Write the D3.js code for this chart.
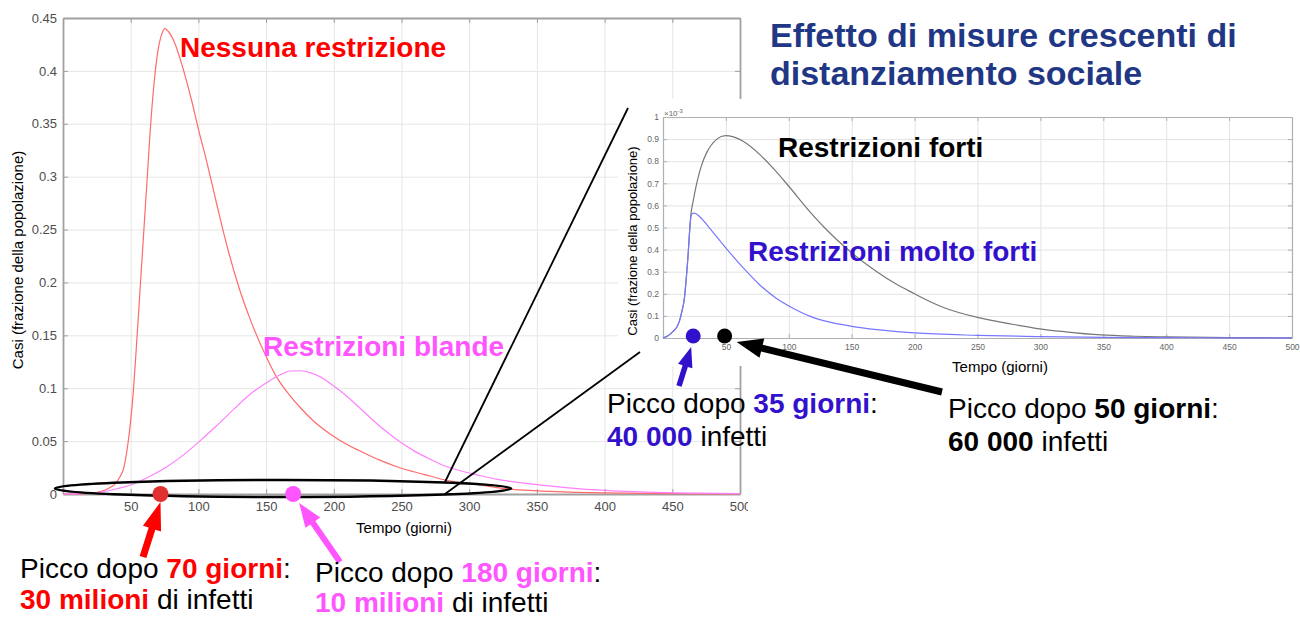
<!DOCTYPE html>
<html>
<head>
<meta charset="utf-8">
<script src="https://cdn.jsdelivr.net/npm/d3@7"></script>
<style>
  body { margin: 0; background: #fff; }
  svg { display: block; font-family: "Liberation Sans", Arial, sans-serif; }
</style>
</head>
<body>
<svg id="chart" width="1300" height="619"></svg>
<script>
// ---- data ----
const mainTicksX = [50, 100, 150, 200, 250, 300, 350, 400, 450, 500];
const mainTicksY = [0, 0.05, 0.1, 0.15, 0.2, 0.25, 0.3, 0.35, 0.4, 0.45];
const mainLabelsY = ["0", "0.05", "0.1", "0.15", "0.2", "0.25", "0.3", "0.35", "0.4", "0.45"];

// Nessuna restrizione (fraction of population)
const daysNessuna = [0, 10, 20, 27, 33, 38, 42, 44.5, 48, 52, 54.5, 57, 59.5, 62, 64.5, 67, 70, 73, 75.3, 78, 82, 88, 95, 100, 106, 113, 121, 130, 138, 150, 158, 167, 175, 185, 197, 209.5, 222, 234, 246, 259, 271, 283, 295, 308, 320, 332, 360, 400, 450, 500];
const casiNessuna = [0, 0, 0.0005, 0.002, 0.005, 0.009, 0.016, 0.023, 0.048, 0.098, 0.145, 0.195, 0.245, 0.295, 0.345, 0.385, 0.418, 0.435, 0.44, 0.437, 0.428, 0.405, 0.372, 0.345, 0.315, 0.277, 0.235, 0.195, 0.166, 0.13, 0.11, 0.094, 0.082, 0.069, 0.057, 0.047, 0.039, 0.032, 0.026, 0.021, 0.017, 0.013, 0.0105, 0.0085, 0.006, 0.0044, 0.0025, 0.001, 0.0004, 0.0001];

// Restrizioni blande
const daysBlande = [0, 15, 27, 40, 52, 64, 77, 89, 101, 113, 126, 138, 150, 160, 168, 175, 183, 191, 200, 210, 222, 234, 246, 259, 271, 283, 295, 308, 320, 333, 357, 382, 406, 431, 470, 500];
const casiBlande = [0, 0.0003, 0.0015, 0.005, 0.0095, 0.0165, 0.026, 0.037, 0.05, 0.064, 0.08, 0.094, 0.105, 0.1125, 0.1163, 0.1165, 0.1145, 0.11, 0.102, 0.092, 0.078, 0.064, 0.052, 0.041, 0.033, 0.026, 0.0215, 0.0175, 0.014, 0.0115, 0.008, 0.0048, 0.003, 0.0017, 0.0008, 0.0004];

const insetTicksX = [50, 100, 150, 200, 250, 300, 350, 400, 450, 500];
const insetTicksY = [0, 0.1, 0.2, 0.3, 0.4, 0.5, 0.6, 0.7, 0.8, 0.9, 1];
const insetLabelsY = ["0", "0.1", "0.2", "0.3", "0.4", "0.5", "0.6", "0.7", "0.8", "0.9", "1"];

// Restrizioni forti (x 1e-3)
const daysForti = [0, 4, 8, 11, 13, 15, 17, 18.5, 20, 21, 22, 24, 26.8, 30, 34.8, 38, 42.8, 49.6, 56, 64, 77, 90, 99.5, 117, 130, 149, 170, 185, 200, 212, 223, 250, 275, 295, 320, 348, 375, 401, 450, 500];
const casiForti = [0, 0.01, 0.03, 0.05, 0.075, 0.12, 0.18, 0.27, 0.38, 0.47, 0.55, 0.62, 0.70, 0.77, 0.84, 0.87, 0.90, 0.916, 0.91, 0.889, 0.83, 0.753, 0.69, 0.57, 0.49, 0.39, 0.30, 0.245, 0.2, 0.165, 0.138, 0.093, 0.065, 0.045, 0.028, 0.014, 0.008, 0.005, 0.002, 0.001];

// Restrizioni molto forti (x 1e-3)
const daysMoltoForti = [0, 4, 8, 11, 13, 15, 17, 18.5, 20, 21, 22, 23, 25, 29, 37, 50, 64, 77, 90, 103, 117, 130, 150, 170, 200, 250, 300, 350, 400, 450, 500];
const casiMoltoForti = [0, 0.01, 0.03, 0.05, 0.075, 0.12, 0.18, 0.27, 0.38, 0.47, 0.54, 0.562, 0.565, 0.55, 0.497, 0.407, 0.316, 0.24, 0.18, 0.136, 0.098, 0.075, 0.053, 0.038, 0.023, 0.012, 0.006, 0.003, 0.0015, 0.0008, 0.0004];

// peak markers on the time axis (days)
const peakDaysMain = [72, 170];
const peakDaysInset = [24, 49];
// ellipse around the bottom of the main chart (days)
const ellipseDays = [-6, 331];

// ---- layout ----
const svg = d3.select("#chart");
const xMain = d3.scaleLinear().domain([0, 500]).range([63, 740]);
const yMain = d3.scaleLinear().domain([0, 0.45]).range([494, 18]);
const xInset = d3.scaleLinear().domain([0, 500]).range([663, 1292]);
const yInset = d3.scaleLinear().domain([0, 1]).range([338, 117]);

const RED = "#ff0000", PINK = "#ff55ff", BLUE = "#3311cc";

function drawBox(g, x, y, xTicks, yTicks, yLabels, o) {
  const [x0, x1] = x.range(), [y0, y1] = y.range();
  // grid
  g.append("g").attr("transform", `translate(0,${y0})`)
    .call(d3.axisBottom(x).tickValues(xTicks).tickSize(-(y0 - y1)).tickFormat(""))
    .call(a => a.select(".domain").remove())
    .selectAll("line").attr("stroke", o.grid);
  g.append("g").attr("transform", `translate(${x0},0)`)
    .call(d3.axisLeft(y).tickValues(yTicks).tickSize(-(x1 - x0)).tickFormat(""))
    .call(a => a.select(".domain").remove())
    .selectAll("line").attr("stroke", o.grid);

  const style = a => {
    a.select(".domain").attr("stroke", o.axis).attr("stroke-width", o.axisW);
    a.selectAll(".tick line").attr("stroke", o.axis);
    a.selectAll("text").attr("fill", o.text).style("font-size", o.font + "px")
      .style("font-family", '"Liberation Sans", Arial, sans-serif');
  };
  g.append("g").attr("transform", `translate(0,${y0})`)
    .call(d3.axisBottom(x).tickValues(xTicks).tickSizeInner(-o.tick).tickSizeOuter(0).tickPadding(o.padX))
    .call(style);
  g.append("g").attr("transform", `translate(${x0},0)`)
    .call(d3.axisLeft(y).tickValues(yTicks).tickFormat((d, i) => yLabels[i]).tickSizeInner(-o.tick).tickSizeOuter(0).tickPadding(o.padY))
    .call(style);
  g.append("g").attr("transform", `translate(0,${y1})`)
    .call(d3.axisTop(x).tickValues(xTicks).tickSizeInner(-o.tick).tickSizeOuter(0).tickFormat(""))
    .call(style);
  g.append("g").attr("transform", `translate(${x1},0)`)
    .call(d3.axisRight(y).tickValues(yTicks).tickSizeInner(-o.tick).tickSizeOuter(0).tickFormat(""))
    .call(style);
}

function drawCurve(g, x, y, days, vals, color) {
  const line = d3.line().x(d => x(d[0])).y(d => y(d[1])).curve(d3.curveMonotoneX);
  g.append("path").datum(d3.zip(days, vals)).attr("d", line)
    .attr("fill", "none").attr("stroke", color).attr("stroke-width", 1.2);
}

// ---- main chart ----
svg.append("clipPath").attr("id", "mainClip").append("rect")
  .attr("x", 0).attr("y", 0).attr("width", 748).attr("height", 619);
const gMain = svg.append("g").attr("clip-path", "url(#mainClip)");
drawBox(gMain, xMain, yMain, mainTicksX, mainTicksY, mainLabelsY,
  { grid: "#e6e6e6", axis: "#a0a0a0", axisW: 1.8, text: "#4d4d4d", font: 13, tick: 5, padX: 8, padY: 6 });
drawCurve(gMain, xMain, yMain, daysNessuna, casiNessuna, "#ff6a6a");
drawCurve(gMain, xMain, yMain, daysBlande, casiBlande, "#ff80ff");

gMain.append("text").attr("x", 404).attr("y", 533)
  .attr("text-anchor", "middle").style("font-size", "15px").text("Tempo (giorni)");
gMain.append("text").attr("transform", "translate(23,260) rotate(-90)")
  .attr("text-anchor", "middle").style("font-size", "15px").text("Casi (frazione della popolazione)");

// ---- inset chart ----
const gInset = svg.append("g");
gInset.append("rect").attr("x", 618).attr("y", 99).attr("width", 682).attr("height", 267).attr("fill", "#fff");
drawBox(gInset, xInset, yInset, insetTicksX, insetTicksY, insetLabelsY,
  { grid: "#e3e3e3", axis: "#b0b0b0", axisW: 1.2, text: "#666", font: 8.5, tick: 4, padX: 6, padY: 4 });
drawCurve(gInset, xInset, yInset, daysForti, casiForti, "#777");
drawCurve(gInset, xInset, yInset, daysMoltoForti, casiMoltoForti, "#7777ff");
const expo = gInset.append("text").attr("x", xInset(0) + 1).attr("y", 116)
  .attr("fill", "#666").style("font-size", "8px").text("\u00d710");
expo.append("tspan").attr("dy", -3).style("font-size", "6px").text("-3");
gInset.append("text").attr("x", 1000).attr("y", 372).attr("text-anchor", "middle")
  .style("font-size", "15px").text("Tempo (giorni)");
gInset.append("text").attr("transform", "translate(637,241) rotate(-90)")
  .attr("text-anchor", "middle").style("font-size", "13px").text("Casi (frazione della popolazione)");

// ---- annotations ----
const gAnn = svg.append("g");
const ecx = (xMain(ellipseDays[0]) + xMain(ellipseDays[1])) / 2;
const erx = (xMain(ellipseDays[1]) - xMain(ellipseDays[0])) / 2;
gAnn.append("ellipse").attr("cx", ecx).attr("cy", yMain(0) - 5.5).attr("rx", erx).attr("ry", 8.5)
  .attr("fill", "none").attr("stroke", "#000").attr("stroke-width", 2.4);
gAnn.append("line").attr("x1", 445).attr("y1", 482).attr("x2", 628).attr("y2", 108)
  .attr("stroke", "#000").attr("stroke-width", 1.8);
gAnn.append("line").attr("x1", 445).attr("y1", 494).attr("x2", 640).attr("y2", 352)
  .attr("stroke", "#000").attr("stroke-width", 1.8);

function arrow(x1, y1, x2, y2, w, L, W, color) {
  const len = Math.hypot(x2 - x1, y2 - y1);
  const ux = (x2 - x1) / len, uy = (y2 - y1) / len, nx = -uy, ny = ux;
  const bx = x2 - ux * L, by = y2 - uy * L;
  const p = [
    [x1 + nx * w / 2, y1 + ny * w / 2], [bx + nx * w / 2, by + ny * w / 2], [bx + nx * W / 2, by + ny * W / 2],
    [x2, y2], [bx - nx * W / 2, by - ny * W / 2], [bx - nx * w / 2, by - ny * w / 2], [x1 - nx * w / 2, y1 - ny * w / 2]
  ];
  gAnn.append("path").attr("d", "M" + p.map(q => q.join(",")).join("L") + "Z").attr("fill", color);
}

const mainDotColors = ["#e03030", PINK];
gAnn.selectAll("circle.pm").data(peakDaysMain).join("circle")
  .attr("cx", d => xMain(d)).attr("cy", yMain(0)).attr("r", 8)
  .attr("fill", (d, i) => mainDotColors[i]);
const insetDotColors = [BLUE, "#000"];
gAnn.selectAll("circle.pi").data(peakDaysInset).join("circle")
  .attr("cx", d => xInset(d)).attr("cy", yInset(0) - 2).attr("r", 7.5)
  .attr("fill", (d, i) => insetDotColors[i]);

arrow(143, 557, xMain(peakDaysMain[0]), 502, 7, 28, 19, RED);
arrow(340, 562, xMain(peakDaysMain[1]) + 6, 503, 6, 24, 18, PINK);
arrow(679, 386, xInset(peakDaysInset[0]) - 2, 347, 5.5, 20, 15, BLUE);
arrow(942, 392, xInset(peakDaysInset[1]) + 12, 342, 7, 26, 20, "#000");

function richText(x, y, parts, size) {
  const t = gAnn.append("text").attr("x", x).attr("y", y).style("font-size", size + "px");
  parts.forEach(([s, color, bold]) => {
    t.append("tspan").attr("fill", color).style("font-weight", bold ? "bold" : "normal").text(s);
  });
}

richText(770, 47, [["Effetto di misure crescenti di", "#1f3784", true]], 34);
richText(770, 85, [["distanziamento sociale", "#1f3784", true]], 34);
richText(180, 57, [["Nessuna restrizione", RED, true]], 28);
richText(263, 356, [["Restrizioni blande", PINK, true]], 28);
richText(778, 157, [["Restrizioni forti", "#000", true]], 28);
richText(748, 261, [["Restrizioni molto forti", BLUE, true]], 28);

richText(20, 578, [["Picco dopo ", "#000"], ["70 giorni", RED, true], [":", "#000"]], 28);
richText(20, 609, [["30 milioni", RED, true], [" di infetti", "#000"]], 28);
richText(315, 582, [["Picco dopo ", "#000"], ["180 giorni", PINK, true], [":", "#000"]], 28);
richText(315, 612, [["10 milioni", PINK, true], [" di infetti", "#000"]], 28);
richText(607, 413, [["Picco dopo ", "#000"], ["35 giorni", BLUE, true], [":", "#000"]], 28);
richText(607, 446, [["40 000", BLUE, true], [" infetti", "#000"]], 28);
richText(948, 418, [["Picco dopo ", "#000"], ["50 giorni", "#000", true], [":", "#000"]], 28);
richText(948, 451, [["60 000", "#000", true], [" infetti", "#000"]], 28);
</script>
</body>
</html>
